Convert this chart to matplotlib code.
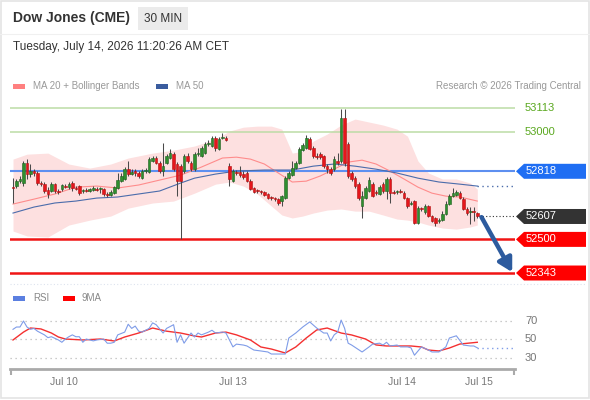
import numpy as np
import matplotlib
matplotlib.use("Agg")
import matplotlib.pyplot as plt
from matplotlib.patches import Polygon, Rectangle
from matplotlib.lines import Line2D

plt.rcParams['font.family'] = ['Liberation Sans', 'DejaVu Sans']

# 30 min candles, index 0 = first bar on screen
opens = [52744, 52749, 52772, 52763, 52856, 52805, 52819, 52810, 52763, 52758,
         52730, 52726, 52758, 52726, 52735, 52749, 52744, 52763, 52740, 52749,
         52726, 52730, 52726, 52730, 52735, 52735, 52735, 52712, 52707, 52716,
         52740, 52772, 52782, 52828, 52805, 52819, 52810, 52786, 52819, 52814,
         52866, 52880, 52856, 52819, 52856, 52880, 52898, 52852, 52842, 52819,
         52889, 52856, 52828, 52898, 52889, 52903, 52945, 52936, 52973, 52922,
         52973, 52973, 52842, 52772, 52814, 52814, 52805, 52810, 52772, 52740,
         52730, 52726, 52721, 52712, 52698, 52693, 52688, 52679, 52693, 52786,
         52800, 52833, 52856, 52917, 52926, 52968, 52926, 52889, 52898, 52889,
         52842, 52828, 52828, 52866, 52866, 53066, 52945, 52810, 52786, 52758,
         52656, 52693, 52726, 52758, 52721, 52712, 52758, 52726, 52782, 52721,
         52721, 52726, 52716, 52693, 52665, 52679, 52576, 52646, 52628, 52656,
         52609, 52600, 52586, 52590, 52618, 52665, 52702, 52707, 52716, 52688,
         52642, 52628, 52632, 52623]
closes = [52740, 52772, 52782, 52856, 52805, 52819, 52810, 52763, 52758, 52726,
          52712, 52758, 52726, 52721, 52754, 52744, 52758, 52740, 52735, 52716,
          52730, 52726, 52735, 52740, 52730, 52740, 52712, 52707, 52721, 52744,
          52777, 52796, 52828, 52805, 52814, 52810, 52796, 52819, 52824, 52875,
          52880, 52856, 52819, 52842, 52889, 52903, 52828, 52772, 52772, 52889,
          52866, 52828, 52898, 52903, 52926, 52945, 52950, 52973, 52926, 52968,
          52978, 52964, 52782, 52819, 52810, 52800, 52791, 52772, 52735, 52721,
          52726, 52721, 52707, 52693, 52693, 52688, 52670, 52702, 52786, 52810,
          52833, 52856, 52922, 52940, 52973, 52922, 52889, 52884, 52884, 52842,
          52828, 52810, 52875, 52856, 53066, 52856, 52796, 52782, 52749, 52693,
          52702, 52740, 52777, 52702, 52716, 52744, 52726, 52782, 52716, 52716,
          52726, 52721, 52693, 52656, 52670, 52576, 52646, 52642, 52656, 52609,
          52586, 52576, 52590, 52618, 52665, 52702, 52716, 52721, 52693, 52642,
          52623, 52632, 52628, 52607]
highs = [52786, 52782, 52796, 52866, 52875, 52852, 52828, 52819, 52772, 52768,
         52744, 52768, 52763, 52735, 52758, 52758, 52768, 52772, 52749, 52754,
         52735, 52740, 52740, 52749, 52744, 52744, 52740, 52721, 52730, 52749,
         52810, 52810, 52838, 52866, 52828, 52828, 52819, 52828, 52833, 52884,
         52889, 52889, 52866, 52950, 52898, 52922, 52908, 52861, 52852, 52898,
         52903, 52866, 52908, 52926, 52936, 52954, 52964, 52982, 52982, 52978,
         52996, 52982, 52856, 52828, 52824, 52842, 52819, 52819, 52782, 52744,
         52735, 52730, 52726, 52716, 52702, 52698, 52693, 52707, 52796, 52819,
         52866, 52866, 52931, 52950, 52987, 52978, 52936, 52903, 52908, 52894,
         52852, 52838, 52889, 52903, 53108, 53108, 52954, 52819, 52796, 52768,
         52726, 52749, 52791, 52768, 52730, 52754, 52768, 52791, 52791, 52730,
         52730, 52735, 52726, 52698, 52679, 52684, 52656, 52651, 52665, 52660,
         52614, 52604, 52600, 52632, 52679, 52712, 52740, 52730, 52726, 52698,
         52651, 52651, 52651, 52628]
lows = [52670, 52740, 52763, 52749, 52782, 52791, 52796, 52754, 52749, 52716,
        52693, 52721, 52716, 52712, 52726, 52740, 52735, 52726, 52730, 52707,
        52716, 52721, 52721, 52726, 52726, 52716, 52702, 52698, 52702, 52712,
        52735, 52768, 52777, 52796, 52800, 52796, 52786, 52782, 52810, 52810,
        52861, 52852, 52810, 52796, 52852, 52875, 52819, 52702, 52502, 52810,
        52856, 52819, 52819, 52889, 52884, 52898, 52936, 52931, 52912, 52917,
        52968, 52959, 52749, 52768, 52800, 52791, 52782, 52768, 52730, 52716,
        52716, 52712, 52702, 52688, 52684, 52679, 52660, 52656, 52688, 52782,
        52796, 52828, 52852, 52912, 52922, 52917, 52880, 52875, 52875, 52833,
        52810, 52800, 52819, 52847, 52856, 52842, 52786, 52772, 52740, 52684,
        52600, 52688, 52721, 52698, 52707, 52707, 52716, 52688, 52670, 52712,
        52712, 52716, 52688, 52646, 52660, 52572, 52572, 52632, 52618, 52604,
        52581, 52562, 52576, 52586, 52614, 52660, 52698, 52702, 52688, 52637,
        52614, 52572, 52586, 52600]

# indicator readings (bar index -> value)
bb_idx = [0, 4, 10, 16, 22, 28, 33, 40, 46, 52, 58, 62, 66, 70, 74, 77, 80, 83,
          86, 90, 94, 98, 102, 106, 110, 113, 116, 119, 123, 127, 131, 133]
bb_upper = [52875, 52898, 52903, 52852, 52833, 52852, 52880, 52903, 52917, 52936,
            52968, 53006, 53024, 53029, 53029, 53015, 52903, 52912, 52959, 52992,
            53034, 53062, 53048, 53034, 53015, 52982, 52866, 52810, 52782, 52782,
            52763, 52735]
bb_lower = [52539, 52516, 52511, 52567, 52590, 52609, 52646, 52670, 52679, 52716,
            52758, 52768, 52749, 52712, 52656, 52614, 52600, 52609, 52623, 52637,
            52642, 52632, 52632, 52614, 52595, 52590, 52581, 52567, 52553, 52548,
            52558, 52567]
ma20_idx = [0, 6, 12, 18, 24, 30, 36, 42, 48, 54, 60, 64, 68, 72, 76, 80, 84, 88,
            92, 96, 100, 104, 108, 112, 116, 120, 124, 128, 133]
ma20 = [52665, 52688, 52712, 52744, 52749, 52740, 52754, 52777, 52800, 52838,
        52880, 52884, 52875, 52852, 52810, 52768, 52772, 52796, 52828, 52861,
        52870, 52852, 52819, 52782, 52744, 52716, 52702, 52698, 52679]
ma50_idx = [0, 6, 12, 18, 24, 30, 36, 42, 48, 52, 58, 64, 72, 80, 86, 92, 98,
            104, 110, 116, 122, 128, 133]
ma50 = [52623, 52651, 52670, 52679, 52693, 52698, 52712, 52726, 52763, 52786,
        52805, 52819, 52824, 52824, 52842, 52852, 52842, 52828, 52810, 52786,
        52768, 52758, 52749]

rsi_idx = [0, 1, 2, 3, 4, 5, 6, 7, 8, 9, 10, 11, 13, 14, 15, 16, 17, 18, 19, 20,
           21, 22, 23, 24, 26, 27, 28, 29, 30, 32, 33, 34, 35, 36, 37, 39, 40, 41,
           43, 44, 46, 47, 48, 49, 51, 52, 53, 54, 56, 57, 58, 60, 61, 63, 64, 66,
           67, 69, 71, 73, 74, 76, 78, 79, 81, 83, 85, 87, 89, 90, 91, 92, 93, 94,
           95, 96, 97, 100, 102, 103, 105, 106, 107, 108, 110, 111, 113, 114, 115,
           117, 119, 120, 122, 124, 125, 127, 129, 131, 132, 133]
rsi = [61, 63.5, 63.5, 70, 63.5, 61, 62, 59, 57, 55, 52, 53, 49.5, 47, 50.5, 53,
       55, 53, 53, 47, 50.5, 49.5, 48.5, 49.5, 50.5, 46, 46, 47, 55, 58, 66.5, 62,
       64.5, 59, 58, 62, 68, 66, 57, 62, 66, 47, 55, 46, 57, 52.7, 57, 55, 58, 60,
       57, 58, 57, 42, 45, 44, 43, 38.6, 37.6, 36.5, 34.3, 34.3, 34.3, 51.6, 57,
       63.5, 69, 62.4, 57, 57, 48.4, 55, 58, 71, 62, 46, 44, 36.5, 42, 45, 46, 44,
       47, 43, 44, 42, 42, 41, 33, 42, 38.6, 36.5, 36.5, 42, 51.6, 54, 44, 43, 43, 41]
rsi_ma_idx = [0, 3, 5, 8, 11, 13, 15, 20, 25, 29, 32, 36, 40, 44, 48, 52, 54, 58,
              61, 64, 68, 71, 74, 78, 81, 84, 87, 90, 94, 97, 101, 104, 107, 111,
              114, 117, 119, 122, 125, 128, 133]
rsi_ma = [49.5, 58, 62.4, 61.4, 57, 52.7, 50.5, 49.5, 50.5, 48.4, 52.7, 57, 62.4,
          59, 57, 53.8, 52.7, 57, 58, 55, 49.5, 41.9, 39.7, 35.4, 41.9, 51.6, 60.3,
          62.4, 57, 54.9, 50.5, 44.1, 43, 43, 43, 41.9, 38.6, 37.6, 40.8, 45.1, 47]

level_up = [53113, 53000]
pivot = 52818
last_price = 52607
level_dn = [52500, 52343]

date_pos = [14.6, 63, 111.5, 133.5]
date_labels = ['Jul 10', 'Jul 13', 'Jul 14', 'Jul 15']

W, H = 590, 400
fig = plt.figure(figsize=(5.9, 4), dpi=100)
fig.patch.set_facecolor('white')


def fx(x):
    return x / W


def fy(y):
    return 1 - y / H


XMIN, XMAX = -0.86, 143.8

# price panel
ax = fig.add_axes([fx(10), fy(285), fx(505), 185 / H])
ax.set_xlim(XMIN, XMAX)
ax.set_ylim(52287, 53151)
ax.axis('off')

ax.fill_between(bb_idx, bb_lower, bb_upper, color='#fde0e0', lw=0, zorder=1)
ax.plot(ma20_idx, ma20, color='#ff8c8c', lw=0.8, zorder=2)
ax.plot(ma50_idx, ma50, color='#4b6cab', lw=0.8, zorder=2)
ax.plot([ma50_idx[-1], XMAX], [ma50[-1], ma50[-1]], color='#4b6cab', lw=1,
        ls=(0, (1, 2.5)), zorder=2)

for lv in level_up:
    ax.axhline(lv, color='#bcdca6', lw=1.1, zorder=1.5)
ax.axhline(pivot, color='#5d8ff0', lw=1.5, zorder=1.5)
for lv in level_dn:
    ax.axhline(lv, color='#f01515', lw=1.8, zorder=1.5)

x = np.arange(len(closes))
o = np.array(opens)
c = np.array(closes)
up = c >= o
body_col = np.where(up, '#2f8f2f', '#e5161c')
edge_col = np.where(up, '#1f5f1f', '#b01010')
ax.vlines(x, lows, highs, color='#4a4a4a', lw=0.75, zorder=3)
ax.bar(x, np.maximum(np.abs(c - o), 3), bottom=np.minimum(o, c), width=0.75,
       color=body_col, edgecolor=edge_col, linewidth=0.4, zorder=4)

ax.plot([x[-1] + 0.6, XMAX], [last_price, last_price], color='#333333', lw=0.8,
        ls=(0, (1, 2)), zorder=2)

# forecast arrow
ax.annotate('', xy=(143.0, 52347), xytext=(134.2, 52604),
            arrowprops=dict(arrowstyle='-|>,head_width=0.45,head_length=0.8',
                            lw=3.2, color='#2d5b9e', shrinkA=0, shrinkB=0),
            annotation_clip=False, zorder=6)

# right hand labels
trans = ax.get_yaxis_transform()


def ax_frac(px):
    return (px - 10) / 505


def tag(price, label, color):
    h = 35
    pts = [(ax_frac(516), price), (ax_frac(524), price + h), (ax_frac(586), price + h),
           (ax_frac(586), price - h), (ax_frac(524), price - h)]
    ax.add_patch(Polygon(pts, closed=True, transform=trans, facecolor=color,
                         edgecolor='none', clip_on=False, zorder=5))
    ax.text(ax_frac(526), price, label, transform=trans, color='white', fontsize=8,
            va='center', ha='left', clip_on=False, zorder=6)


for lv in level_up:
    ax.text(ax_frac(525), lv, str(lv), transform=trans, color='#5aa81f', fontsize=8,
            va='center', ha='left', clip_on=False)
tag(pivot, str(pivot), '#1f6ef3')
tag(last_price, str(last_price), '#333333')
for lv in level_dn:
    tag(lv, str(lv), '#ff0000')

# RSI panel
ax2 = fig.add_axes([fx(10), fy(369), fx(505), 64 / H])
ax2.set_xlim(XMIN, XMAX)
ax2.set_ylim(18.1, 87.3)
for g in [70, 50, 30]:
    ax2.axhline(g, color='#bbbbbb', lw=0.9, ls=(0, (1, 3)), zorder=1)
    ax2.text(ax_frac(525), g, str(g), transform=ax2.get_yaxis_transform(),
             color='#777777', fontsize=8, va='center', ha='left', clip_on=False)
ax2.plot(rsi_idx, rsi, color='#7f9ce8', lw=0.8, zorder=3)
ax2.plot([rsi_idx[-1], XMAX], [rsi[-1], rsi[-1]], color='#7f9ce8', lw=1,
         ls=(0, (1, 2.5)), zorder=3)
ax2.plot(rsi_ma_idx, rsi_ma, color='#f43030', lw=1.0, zorder=2)
for s in ['top', 'left', 'right']:
    ax2.spines[s].set_visible(False)
ax2.spines['bottom'].set_color('#aaaaaa')
ax2.spines['bottom'].set_linewidth(2)
ax2.set_yticks([])
ax2.set_xticks(date_pos)
ax2.set_xticklabels(date_labels, color='#777777', fontsize=7.5)
ax2.tick_params(axis='x', length=0, pad=6)
ax2.set_xticks([XMIN + 0.3, XMAX - 0.3], minor=True)
ax2.tick_params(axis='x', which='minor', length=4, width=1.5, color='#aaaaaa')
ax2.patch.set_alpha(0)

# header
fig.text(fx(13), fy(18), 'Dow Jones (CME)', fontsize=10, fontweight='bold',
         color='#333333', va='center', ha='left')
fig.patches.append(Rectangle((fx(138), fy(30)), fx(50), 23 / H, transform=fig.transFigure,
                             facecolor='#ebebeb', edgecolor='none'))
fig.text(fx(163), fy(18.5), '30 MIN', fontsize=8.5, color='#333333', va='center',
         ha='center')
fig.text(fx(13), fy(47), 'Tuesday, July 14, 2026 11:20:26 AM CET', fontsize=8.5,
         color='#333333', va='center', ha='left')

# legends
fig.patches.append(Rectangle((fx(13), fy(88.5)), fx(12), 4.5 / H, transform=fig.transFigure,
                             facecolor='#ff8080', edgecolor='none'))
fig.text(fx(33), fy(86), 'MA 20 + Bollinger Bands', fontsize=7, color='#999999',
         va='center', ha='left')
fig.patches.append(Rectangle((fx(156), fy(88.5)), fx(12), 4.5 / H, transform=fig.transFigure,
                             facecolor='#3a5c9e', edgecolor='none'))
fig.text(fx(176), fy(86), 'MA 50', fontsize=7, color='#999999', va='center', ha='left')
fig.text(fx(581), fy(86), 'Research \u00a9 2026 Trading Central', fontsize=7,
         color='#999999', va='center', ha='right')

fig.patches.append(Rectangle((fx(13), fy(300.5)), fx(12), 4.5 / H, transform=fig.transFigure,
                             facecolor='#5b7fe0', edgecolor='none'))
fig.text(fx(33), fy(298), 'RSI', fontsize=7, color='#888888', va='center', ha='left')
fig.patches.append(Rectangle((fx(63), fy(300.5)), fx(12), 4.5 / H, transform=fig.transFigure,
                             facecolor='#ff0000', edgecolor='none'))
fig.text(fx(82), fy(298), '9MA', fontsize=7, color='#888888', va='center', ha='left')

# frame and separators
fig.lines.append(Line2D([fx(10), fx(586)], [fy(284), fy(284)], transform=fig.transFigure,
                        color='#dde3ee', lw=0.8, ls=(0, (1, 2))))
fig.lines.append(Line2D([0, 1], [fy(34), fy(34)], transform=fig.transFigure,
                        color='#f0f0f0', lw=0.8))
fig.patches.append(Rectangle((0.001, 0.004), 0.997, 0.994, transform=fig.transFigure,
                             facecolor='none', edgecolor='#e4e4e4', lw=1.2))

fig.savefig('out.png', dpi=100, facecolor='white')
